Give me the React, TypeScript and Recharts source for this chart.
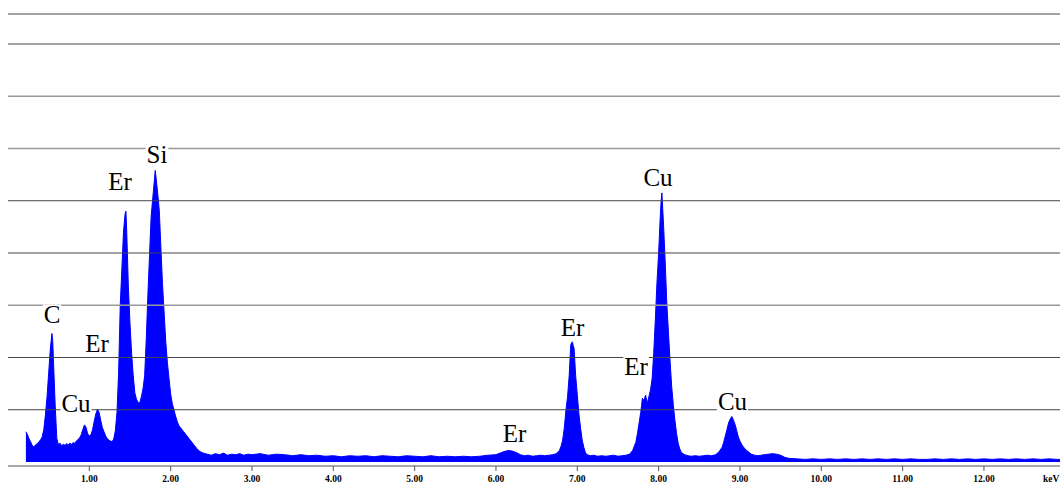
import React from 'react';
import { ComposedChart, Area, XAxis, YAxis, ReferenceLine, ReferenceDot, Label } from 'recharts';

// EDS spectrum (energy in keV, counts)
const energyKeV = [
  0.22, 0.24, 0.26, 0.28, 0.30, 0.32, 0.34, 0.36, 0.38, 0.40, 0.42, 0.44, 0.46, 0.48, 0.50, 0.52, 0.54, 0.55, 0.56, 0.58,
  0.60, 0.62, 0.64, 0.66, 0.68, 0.70, 0.72, 0.74, 0.76, 0.78, 0.80, 0.82, 0.84, 0.86, 0.88, 0.90, 0.92, 0.94, 0.96, 0.98,
  1.00, 1.02, 1.04, 1.06, 1.08, 1.10, 1.12, 1.14, 1.16, 1.18, 1.20, 1.22, 1.24, 1.26, 1.28, 1.30, 1.32, 1.34, 1.36, 1.38,
  1.40, 1.42, 1.44, 1.45, 1.46, 1.48, 1.50, 1.52, 1.54, 1.56, 1.58, 1.60, 1.62, 1.64, 1.66, 1.68, 1.70, 1.72, 1.74, 1.76,
  1.78, 1.80, 1.81, 1.82, 1.84, 1.86, 1.88, 1.90, 1.92, 1.94, 1.96, 1.98, 2.00, 2.02, 2.04, 2.06, 2.08, 2.10, 2.12, 2.16,
  2.20, 2.24, 2.28, 2.32, 2.36, 2.40, 2.45, 2.50, 2.55, 2.60, 2.65, 2.70, 2.75, 2.80, 2.85, 2.90, 2.95, 3.00, 3.10, 3.20,
  3.30, 3.40, 3.50, 3.60, 3.70, 3.80, 3.90, 4.00, 4.10, 4.20, 4.30, 4.40, 4.50, 4.60, 4.70, 4.80, 4.90, 5.00, 5.10, 5.20,
  5.30, 5.40, 5.50, 5.60, 5.70, 5.80, 5.90, 6.00, 6.05, 6.10, 6.15, 6.20, 6.25, 6.30, 6.35, 6.40, 6.45, 6.50, 6.55, 6.60,
  6.65, 6.70, 6.74, 6.78, 6.80, 6.82, 6.84, 6.86, 6.88, 6.90, 6.92, 6.93, 6.94, 6.95, 6.96, 6.98, 7.00, 7.02, 7.04, 7.06,
  7.08, 7.10, 7.12, 7.16, 7.20, 7.25, 7.30, 7.35, 7.40, 7.45, 7.50, 7.55, 7.60, 7.64, 7.66, 7.68, 7.70, 7.72, 7.74, 7.76,
  7.78, 7.79, 7.80, 7.82, 7.84, 7.86, 7.88, 7.90, 7.92, 7.94, 7.96, 7.98, 8.00, 8.02, 8.03, 8.04, 8.05, 8.06, 8.08, 8.10,
  8.12, 8.14, 8.16, 8.18, 8.20, 8.22, 8.24, 8.26, 8.28, 8.32, 8.36, 8.40, 8.45, 8.50, 8.55, 8.60, 8.65, 8.70, 8.74, 8.78,
  8.80, 8.82, 8.84, 8.86, 8.88, 8.90, 8.91, 8.92, 8.94, 8.96, 8.98, 9.00, 9.02, 9.04, 9.06, 9.08, 9.10, 9.14, 9.18, 9.22,
  9.26, 9.30, 9.35, 9.40, 9.45, 9.50, 9.55, 9.60, 9.70, 9.80, 9.90, 10.00, 10.10, 10.20, 10.30, 10.40, 10.50, 10.60, 10.70, 10.80,
  10.90, 11.00, 11.10, 11.20, 11.30, 11.40, 11.50, 11.60, 11.70, 11.80, 11.90, 12.00, 12.10, 12.20, 12.30, 12.40, 12.50, 12.60, 12.70, 12.80,
  12.90, 12.95,
];
const counts = [
  58, 52, 44, 38, 31, 29, 33, 35, 39, 42, 48, 62, 90, 125, 170, 215, 246, 232, 190, 110,
  45, 33, 36, 31, 34, 32, 35, 33, 36, 34, 37, 36, 40, 43, 46, 52, 62, 71, 66, 54,
  50, 52, 62, 78, 92, 101, 95, 80, 66, 58, 50, 45, 42, 40, 39, 44, 60, 95, 170, 300,
  370, 440, 475, 480, 440, 335, 265, 208, 165, 132, 120, 114, 113, 125, 140, 165, 235, 320, 395, 470,
  505, 540, 558, 545, 515, 482, 410, 340, 285, 230, 190, 160, 130, 112, 100, 88, 78, 70, 66, 58,
  50, 42, 34, 26, 20, 17, 15, 13, 16, 14, 17, 13, 15, 14, 16, 13, 15, 14, 16, 13,
  15, 14, 12, 14, 12, 13, 11, 12, 10, 12, 11, 12, 10, 12, 11, 10, 12, 11, 10, 12,
  10, 11, 10, 11, 10, 11, 13, 14, 17, 20, 22, 21, 18, 14, 12, 13, 11, 12, 13, 12,
  13, 14, 16, 22, 30, 42, 65, 99, 125, 165, 225, 228, 230, 222, 218, 165, 128, 92, 65, 42,
  28, 18, 14, 12, 13, 11, 12, 11, 12, 13, 11, 12, 13, 15, 18, 22, 30, 38, 55, 75,
  95, 108, 122, 118, 128, 112, 125, 138, 160, 210, 275, 345, 400, 470, 498, 515, 485, 455, 385, 305,
  250, 195, 145, 110, 80, 55, 36, 25, 18, 14, 12, 11, 12, 11, 12, 13, 12, 14, 19, 28,
  38, 50, 62, 75, 82, 87, 84, 80, 72, 60, 48, 40, 34, 29, 26, 22, 20, 15, 13, 12,
  13, 14, 15, 16, 15, 13, 9, 7, 6, 5, 6, 5, 6, 5, 6, 5, 6, 5, 6, 5,
  6, 5, 6, 5, 5, 6, 5, 6, 5, 6, 5, 6, 5, 6, 5, 6, 5, 6, 5, 6,
  5, 5,
];

const tickKeV = [1, 2, 3, 4, 5, 6, 7, 8, 9, 10, 11, 12];
const gridDark = [100, 200, 400, 500, 800];
const gridLight = [300, 600, 700];
const frameTopCount = 857.4;
const axisMinCount = -7.66;
const axisMaxKeV = 12.935;

const peakLabels = ['C', 'Cu', 'Er', 'Er', 'Si', 'Er', 'Er', 'Er', 'Cu', 'Cu'];
const peakLabelKeV = [0.541, 0.836, 1.094, 1.377, 1.832, 6.228, 6.941, 7.722, 7.992, 8.908];
const peakLabelCounts = [266, 96, 210, 520, 572, 38, 241, 166, 528, 99];

const data = energyKeV.map((e, i) => ({ e, c: counts[i] }));

const SERIF = '"Liberation Serif", "Times New Roman", serif';
const CHAR_W: Record<string, number> = { C: 0.667, u: 0.5, E: 0.611, r: 0.333, S: 0.556, i: 0.278 };
const LABEL_FS = 25;

const PeakText = ({ cx, cy, text }: { cx: number; cy: number; text: string }) => {
  const w = text.split('').reduce((s, ch) => s + (CHAR_W[ch] ?? 0.5), 0) * LABEL_FS;
  return (
    <g>
      <rect x={cx - w / 2 - 1} y={cy - 0.74 * LABEL_FS} width={w + 2} height={0.74 * LABEL_FS + 3} fill="#ffffff" />
      <text x={cx} y={cy} textAnchor="middle" style={{ fontFamily: SERIF, fontSize: LABEL_FS, fill: '#000' }}>
        {text}
      </text>
    </g>
  );
};

const tickStyle = { fontFamily: SERIF, fontWeight: 700, fontSize: 9.5, fill: '#000' };

export default function App() {
  return (
    <div style={{ position: 'fixed', left: 0, top: 0, background: '#fff' }}>
      <ComposedChart width={1060} height={487} data={data} margin={{ top: 14, right: 0, bottom: 0, left: 8 }}>
        <XAxis
          dataKey="e"
          type="number"
          domain={[0, axisMaxKeV]}
          allowDataOverflow
          ticks={tickKeV}
          interval={0}
          tickFormatter={(v: number) => v.toFixed(2)}
          tick={{ style: tickStyle, fill: '#000' }}
          tickSize={5}
          tickMargin={4}
          height={21}
          axisLine={{ stroke: '#555' }}
          tickLine={{ stroke: '#555' }}
        >
          <Label
            content={(props: any) => {
              const vb = props.viewBox || {};
              return (
                <text x={vb.x + vb.width - 17} y={vb.y + 15.7} style={tickStyle} textAnchor="start">
                  keV
                </text>
              );
            }}
          />
        </XAxis>
        <YAxis hide type="number" domain={[axisMinCount, frameTopCount]} allowDataOverflow />
        <ReferenceLine y={frameTopCount} stroke="#444" strokeWidth={1} ifOverflow="visible" />
        {gridDark.map((g) => (
          <ReferenceLine key={'d' + g} y={g} stroke="#444" strokeWidth={1} />
        ))}
        {gridLight.map((g) => (
          <ReferenceLine key={'l' + g} y={g} stroke="#999" strokeWidth={1.6} />
        ))}
        <Area
          dataKey="c"
          type="linear"
          baseValue={0}
          stroke="#0000ff"
          strokeWidth={1}
          fill="#0000ff"
          fillOpacity={1}
          isAnimationActive={false}
          dot={false}
          activeDot={false}
        />
        {peakLabels.map((t, i) => (
          <ReferenceDot
            key={'p' + i}
            x={peakLabelKeV[i]}
            y={peakLabelCounts[i]}
            r={0}
            ifOverflow="visible"
            shape={(p: any) => <PeakText cx={p.cx} cy={p.cy} text={t} />}
          />
        ))}
      </ComposedChart>
    </div>
  );
}
